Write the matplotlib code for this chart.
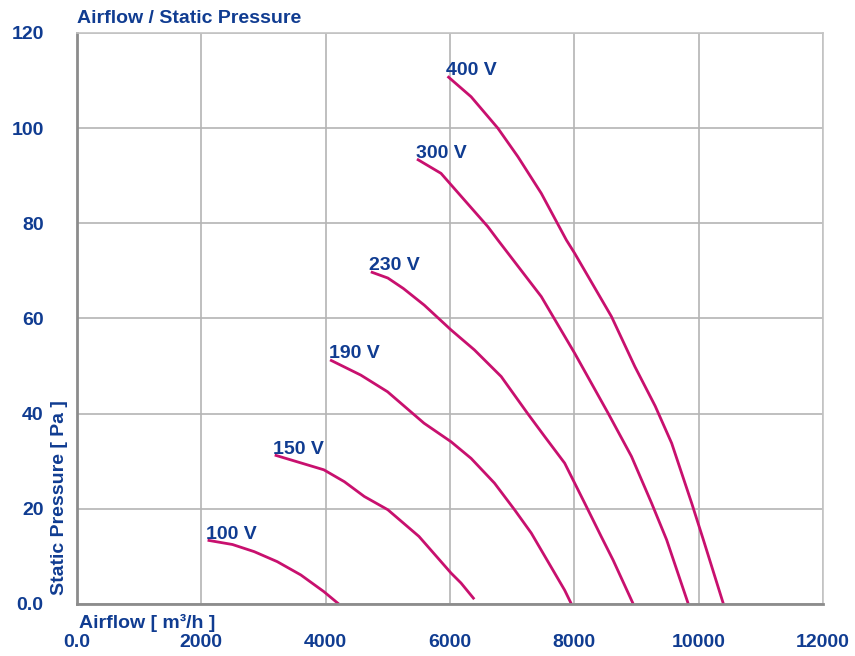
import matplotlib
matplotlib.use('Agg')
import matplotlib.pyplot as plt

# fan curves: airflow [m3/h] vs static pressure [Pa]
labels = ['100 V', '150 V', '190 V', '230 V', '300 V', '400 V']

x100 = [2100, 2500, 2850, 3220, 3600, 3970, 4210]
y100 = [13.4, 12.5, 11.0, 8.9, 6.1, 2.6, 0.0]

x150 = [3180, 3970, 4300, 4620, 5000, 5500, 6016, 6177, 6390]
y150 = [31.3, 28.2, 25.7, 22.6, 19.8, 14.2, 6.5, 4.4, 1.0]

x190 = [4070, 4565, 4995, 5581, 6016, 6339, 6715, 7038, 7307, 7844, 7952]
y190 = [51.3, 48.1, 44.6, 38.0, 34.1, 30.6, 25.4, 19.8, 14.9, 2.9, 0.0]

x230 = [4726, 5000, 5250, 5586, 6016, 6392, 6823, 7250, 7522, 7844, 8166, 8435, 8624, 8947]
y230 = [69.8, 68.5, 66.3, 62.8, 57.6, 53.4, 47.8, 40.0, 35.2, 29.6, 21.2, 14.1, 9.2, 0.0]

x300 = [5468, 5855, 6231, 6608, 6769, 7468, 8005, 8543, 8919, 9242, 9484, 9833]
y300 = [93.5, 90.5, 84.9, 79.3, 76.5, 64.6, 52.7, 40.1, 31.0, 21.2, 13.5, 0.0]

x400 = [5960, 6339, 6769, 7092, 7468, 7871, 8005, 8597, 8973, 9300, 9565, 9887, 10075, 10398]
y400 = [110.9, 106.6, 100.0, 94.0, 86.3, 76.5, 73.7, 60.4, 49.9, 41.6, 33.8, 21.2, 13.5, 0.0]

xs = [x100, x150, x190, x230, x300, x400]
ys = [y100, y150, y190, y230, y300, y400]

xticks = [0, 2000, 4000, 6000, 8000, 10000, 12000]
xticklabels = ['0.0', '2000', '4000', '6000', '8000', '10000', '12000']
yticks = [0, 20, 40, 60, 80, 100, 120]
yticklabels = ['0.0', '20', '40', '60', '80', '100', '120']

blue = '#103c91'
pink = '#c8106e'
plt.rcParams['font.family'] = ['Liberation Sans', 'DejaVu Sans']

fig = plt.figure(figsize=(8.55, 6.56), dpi=100)
ax = fig.add_axes([0.0901, 0.0793, 0.8725, 0.8704])

for x, y, lab in zip(xs, ys, labels):
	ax.plot(x, y, color=pink, lw=2.0, solid_capstyle='butt')
	ax.annotate(lab, (x[0], y[0]), xytext=(-1, 1), textcoords='offset points',
		ha='left', va='baseline', color=blue, fontsize=14, fontweight='bold')

ax.set_xlim(0, 12000)
ax.set_ylim(0, 120)
ax.set_xticks(xticks)
ax.set_xticklabels(xticklabels)
ax.set_yticks(yticks)
ax.set_yticklabels(yticklabels)
ax.tick_params(length=0, labelsize=14, labelcolor=blue)
ax.tick_params(axis='y', pad=24)
ax.tick_params(axis='x', pad=21.5)
for t in ax.get_xticklabels() + ax.get_yticklabels():
	t.set_fontweight('bold')

ax.grid(True, color='#b4b4b4', lw=1.2)
ax.set_axisbelow(True)
for s in ['top', 'right']:
	ax.spines[s].set_color('#c4c4c4')
	ax.spines[s].set_linewidth(1.2)
for s in ['left', 'bottom']:
	ax.spines[s].set_color('#8c8c8c')
	ax.spines[s].set_linewidth(2.0)

ax.text(0.0, 1.026, 'Airflow / Static Pressure', transform=ax.transAxes,
	ha='left', va='center', color=blue, fontsize=14, fontweight='bold')
ax.text(0.002, -0.033, 'Airflow [ m³/h ]', transform=ax.transAxes,
	ha='left', va='center', color=blue, fontsize=14, fontweight='bold')
ax.text(-0.023, 0.016, 'Static Pressure [ Pa ]', transform=ax.transAxes,
	rotation=90, ha='center', va='bottom', color=blue, fontsize=14, fontweight='bold')

fig.savefig('out.png', dpi=100)
